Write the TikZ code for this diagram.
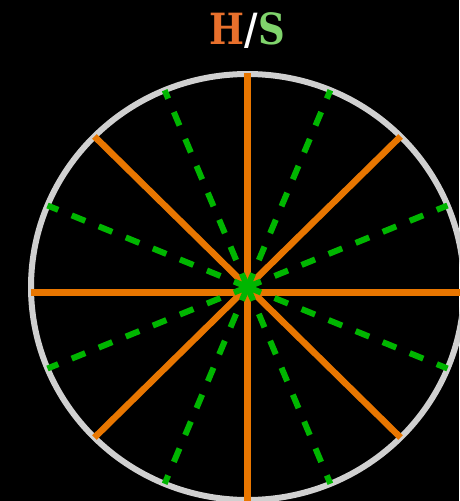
\documentclass[tikz,border=0pt]{standalone}
\usepackage{fontspec}
\newfontfamily\titlefont{DejaVu Serif}
\definecolor{ring}{RGB}{208,208,208}
\definecolor{spoke}{RGB}{232,118,0}
\definecolor{dashgreen}{RGB}{0,182,0}
\definecolor{titleH}{RGB}{232,112,44}
\definecolor{titleS}{RGB}{128,212,108}
\tikzset{
  ringline/.style={draw=ring,line width=6pt},
  spokeline/.style={draw=spoke,line width=6.5pt},
  greenline/.style={draw=dashgreen,line width=6pt,dash pattern=on 14.6pt off 14.6pt},
  titlenode/.style={inner sep=0pt,xscale=0.86,font=\titlefont\bfseries\fontsize{43}{43}\selectfont}
}
\begin{document}
\begin{tikzpicture}[x=1pt,y=-1pt]
\fill[black] (0,0) rectangle (459,501);
\useasboundingbox (0,0) rectangle (459,501);
\coordinate (C) at (247.5,287);
% ring
\draw[ringline] (C) ellipse [x radius=216.5, y radius=213];
% orange spokes
\coordinate (Hl) at (30.6,292.5);
\coordinate (Hr) at (463.6,292.5);
\draw[spokeline] (Hl) -- (Hr);
\coordinate (Vt) at (247.5,73);
\coordinate (Vb) at (247.5,501);
\draw[spokeline] (Vt) -- (Vb);
\foreach \a in {45,135}{
  \coordinate (Da) at ({247.5+216.5*cos(\a)},{287-213*sin(\a)});
  \coordinate (Db) at ({247.5-216.5*cos(\a)},{287+213*sin(\a)});
  \draw[spokeline] (Da) -- (Db);
}
% green dashed spokes, drawn outward from the centre
\foreach \a in {22.5,67.5,...,337.5}{
  \coordinate (G) at ({247.5+216.5*cos(\a)},{287-213*sin(\a)});
  \draw[greenline] (C) -- (G);
}
% title
\node[titlenode] (title) at (247.5,31) {\textcolor{titleH}{H}\textcolor{white}{/}\textcolor{titleS}{S}};
\end{tikzpicture}
\end{document}
